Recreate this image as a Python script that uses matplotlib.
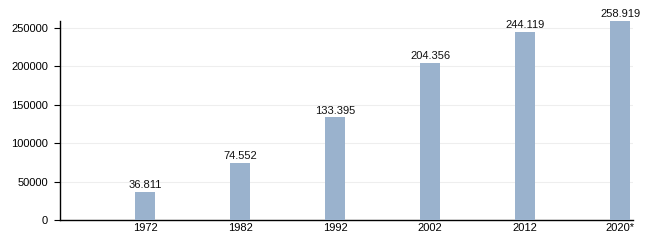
import matplotlib
matplotlib.use("Agg")
import matplotlib.pyplot as plt

plt.rcParams["font.family"] = ["Liberation Sans", "DejaVu Sans"]

anni = ["1972", "1982", "1992", "2002", "2012", "2020*"]
abitanti = [36811, 74552, 133395, 204356, 244119, 258919]
etichette = ["36.811", "74.552", "133.395", "204.356", "244.119", "258.919"]
yticks = [0, 50000, 100000, 150000, 200000, 250000]

fig = plt.figure(figsize=(6.5, 2.5), dpi=100)
ax = fig.add_axes([0.0923, 0.12, 0.8817, 0.796])

x = list(range(len(anni)))
ax.bar(x, abitanti, width=0.21, color="#9ab2cd", zorder=3)

for xi, v, t in zip(x, abitanti, etichette):
    ax.text(xi, v + 2500, t, ha="center", va="bottom", fontsize=8, color="#111111")

ax.set_xlim(-0.895, 5.137)
ax.set_ylim(0, 258919)
ax.set_xticks(x)
ax.set_xticklabels(anni, fontsize=8)
ax.set_yticks(yticks)
ax.set_yticklabels([str(t) for t in yticks], fontsize=8)
ax.tick_params(axis="x", length=0, pad=2)
ax.tick_params(axis="y", length=4.5, width=0.8, pad=4)

ax.grid(axis="y", color="#eeeeee", linewidth=0.8, zorder=0)
for s in ["top", "right"]:
    ax.spines[s].set_visible(False)
ax.spines["left"].set_linewidth(1)
ax.spines["bottom"].set_linewidth(1)

fig.savefig("out.png", dpi=100)
